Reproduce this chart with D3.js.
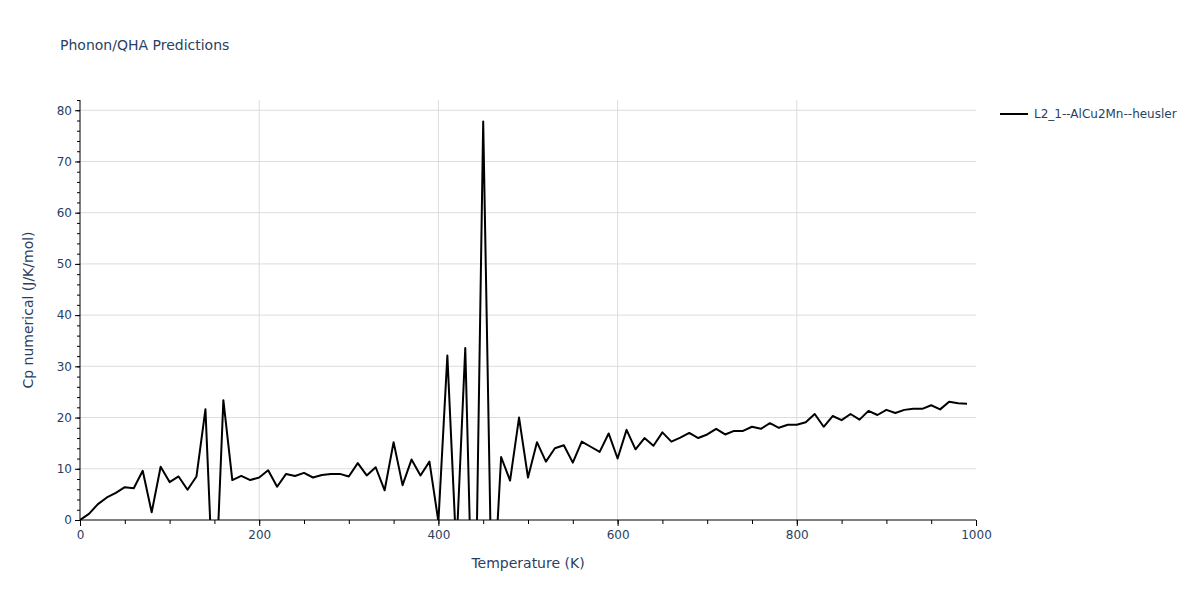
<!DOCTYPE html>
<html>
<head>
<meta charset="utf-8">
<script src="https://cdn.jsdelivr.net/npm/d3@7"></script>
<style>
  body { margin: 0; background: #fff; }
  svg { display: block; font-family: "DejaVu Sans", Verdana, sans-serif; }
</style>
</head>
<body>
<svg id="chart" width="1200" height="600"></svg>
<script>
const seriesName = "L2_1--AlCu2Mn--heusler";
const temperatures = d3.range(0, 1000, 10);
const cpValues = [
  0, 1.2, 3.1, 4.4, 5.3, 6.4, 6.2, 9.6, 1.5, 10.4,
  7.4, 8.5, 5.9, 8.5, 21.6, -19.5, 23.4, 7.8, 8.6, 7.8,
  8.3, 9.7, 6.5, 9.0, 8.6, 9.2, 8.3, 8.8, 9.0, 9.0,
  8.5, 11.1, 8.7, 10.3, 5.8, 15.2, 6.8, 11.8, 8.7, 11.4,
  -0.3, 32.1, -6, 33.6, -35, 77.8, -20, 12.3, 7.7, 20.0,
  8.3, 15.2, 11.4, 14.0, 14.6, 11.2, 15.3, 14.3, 13.3, 16.9,
  12.0, 17.6, 13.8, 16.0, 14.5, 17.1, 15.3, 16.1, 17.0, 16.0,
  16.7, 17.8, 16.7, 17.4, 17.4, 18.2, 17.8, 18.9, 18.0, 18.6,
  18.6, 19.1, 20.7, 18.2, 20.3, 19.5, 20.7, 19.6, 21.3, 20.5,
  21.5, 20.9, 21.5, 21.7, 21.7, 22.4, 21.6, 23.1, 22.8, 22.7
];
const xMajorTicks = [0, 200, 400, 600, 800, 1000];
const yMajorTicks = [0, 10, 20, 30, 40, 50, 60, 70, 80];
const xDomain = [0, 1000];
const yDomain = [0, 82];

const data = temperatures.map((t, i) => ({ t, v: cpValues[i] }));

const mL = 80, mR = 976, mT = 100, mB = 520;
const svg = d3.select("#chart");
const x = d3.scaleLinear().domain(xDomain).range([mL, mR]);
const y = d3.scaleLinear().domain(yDomain).range([mB, mT]);
const textColor = "#2a3f5f";
const gridColor = "#dcdcdc";
const fontFam = '"DejaVu Sans", Verdana, sans-serif';

// gridlines
svg.append("g").selectAll("line").data(yMajorTicks.filter(d => d > 0)).join("line")
  .attr("x1", mL).attr("x2", mR)
  .attr("y1", d => y(d)).attr("y2", d => y(d))
  .attr("stroke", gridColor).attr("stroke-width", 1);
svg.append("g").selectAll("line").data(xMajorTicks.filter(d => d > 0 && d < 1000)).join("line")
  .attr("y1", mT).attr("y2", mB)
  .attr("x1", d => x(d)).attr("x2", d => x(d))
  .attr("stroke", gridColor).attr("stroke-width", 1);

// clip
svg.append("defs").append("clipPath").attr("id", "plotclip")
  .append("rect").attr("x", mL).attr("y", mT).attr("width", mR - mL).attr("height", mB - mT);

// line
const line = d3.line().x(d => x(d.t)).y(d => y(d.v));
svg.append("path").datum(data)
  .attr("clip-path", "url(#plotclip)")
  .attr("d", line).attr("fill", "none")
  .attr("stroke", "#000").attr("stroke-width", 2).attr("stroke-linejoin", "round");

// x axis
const xAxis = svg.append("g").attr("transform", `translate(0,${mB})`);
xAxis.call(d3.axisBottom(x).tickValues(d3.range(0, 1001, 50)).tickSize(4).tickFormat(""))
  .call(g => g.select(".domain").remove());
xAxis.append("g").call(d3.axisBottom(x).tickValues(xMajorTicks).tickSize(6).tickPadding(4).tickFormat(d3.format("d")))
  .call(g => g.select(".domain").remove())
  .call(g => g.selectAll("text").attr("fill", textColor).attr("font-size", 12).attr("font-family", fontFam));
xAxis.append("line").attr("x1", mL).attr("x2", mR).attr("stroke", "#000").attr("stroke-width", 1);

// y axis
const yAxis = svg.append("g").attr("transform", `translate(${mL},0)`);
yAxis.call(d3.axisLeft(y).tickValues(d3.range(0, 83, 2)).tickSize(3).tickFormat(""))
  .call(g => g.select(".domain").remove());
yAxis.append("g").call(d3.axisLeft(y).tickValues(yMajorTicks).tickSize(5).tickPadding(3).tickFormat(d3.format("d")))
  .call(g => g.select(".domain").remove())
  .call(g => g.selectAll("text").attr("fill", textColor).attr("font-size", 12).attr("font-family", fontFam));
yAxis.append("line").attr("y1", mT).attr("y2", mB).attr("stroke", "#000").attr("stroke-width", 1);

// titles
svg.append("text").attr("x", 60).attr("y", 50).attr("fill", textColor).attr("font-size", 14)
  .text("Phonon/QHA Predictions");
svg.append("text").attr("x", (mL + mR) / 2).attr("y", 568).attr("text-anchor", "middle")
  .attr("fill", textColor).attr("font-size", 14).text("Temperature (K)");
svg.append("text").attr("transform", `translate(33,${(mT + mB) / 2}) rotate(-90)`)
  .attr("text-anchor", "middle").attr("fill", textColor).attr("font-size", 14)
  .text("Cp numerical (J/K/mol)");

// legend
svg.append("line").attr("x1", 1000).attr("x2", 1028).attr("y1", 114).attr("y2", 114)
  .attr("stroke", "#000").attr("stroke-width", 2);
svg.append("text").attr("x", 1034).attr("y", 118).attr("fill", textColor).attr("font-size", 12)
  .text(seriesName);
</script>
</body>
</html>
